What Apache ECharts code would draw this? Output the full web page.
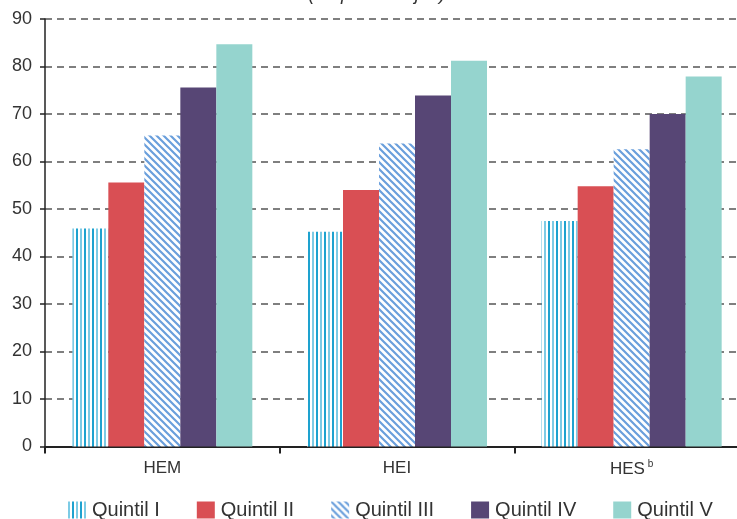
<!DOCTYPE html>
<html>
<head>
<meta charset="utf-8">
<script src="https://cdn.jsdelivr.net/npm/echarts@6/dist/echarts.min.js"></script>
<style>
  html, body { margin: 0; padding: 0; background: #fff; }
  #chart { width: 737px; height: 519px; }
</style>
</head>
<body>
<div id="chart"></div>
<script>
// Categories and values per income quintile (percentages)
var categories = ['HEM', 'HEI', 'HES'];
var seriesNames = ['Quintil I', 'Quintil II', 'Quintil III', 'Quintil IV', 'Quintil V'];
var quintil1 = [45.9, 45.2, 47.5];
var quintil2 = [55.6, 54.0, 54.8];
var quintil3 = [65.5, 63.8, 62.6];
var quintil4 = [75.6, 73.9, 70.0];
var quintil5 = [84.7, 81.2, 77.9];
var yTicks = { min: 0, max: 90, interval: 10 };

var FONT = '"Liberation Sans", Arial, Helvetica, sans-serif';

// Vertical hatch fill (alternating cyan stripes)
function verticalHatch() {
  var c = document.createElement('canvas');
  c.width = 8; c.height = 8;
  var g = c.getContext('2d');
  g.fillStyle = '#ffffff'; g.fillRect(0, 0, 8, 8);
  g.fillStyle = '#7dcbe5'; g.fillRect(0, 0, 2, 8);
  g.fillStyle = '#1ea2cf'; g.fillRect(4, 0, 2, 8);
  return { image: c, repeat: 'repeat' };
}

// Diagonal hatch fill ("\" direction)
function diagonalHatch() {
  var s = 7;
  var c = document.createElement('canvas');
  c.width = s; c.height = s;
  var g = c.getContext('2d');
  g.fillStyle = '#ffffff'; g.fillRect(0, 0, s, s);
  g.strokeStyle = '#6a9fdc'; g.lineWidth = 2.2;
  g.beginPath();
  g.moveTo(-s, -s); g.lineTo(2 * s, 2 * s);
  g.moveTo(-s, 0); g.lineTo(s, 2 * s);
  g.moveTo(0, -s); g.lineTo(2 * s, s);
  g.stroke();
  return { image: c, repeat: 'repeat' };
}

var fills = [verticalHatch(), '#d94f54', diagonalHatch(), '#574675', '#95d4ce'];
var values = [quintil1, quintil2, quintil3, quintil4, quintil5];

var chart = echarts.init(document.getElementById('chart'), null, { renderer: 'canvas' });

var series = seriesNames.map(function (name, i) {
  return {
    name: name,
    type: 'bar',
    data: values[i],
    barWidth: 36,
    barGap: '0%',
    itemStyle: { color: fills[i] },
    emphasis: { disabled: true }
  };
});

chart.setOption({
  animation: false,
  backgroundColor: '#ffffff',
  graphic: [{
    type: 'text',
    x: 377,
    y: -5,
    style: {
      text: '(en porcentajes)',
      font: 'italic 19px ' + FONT,
      fill: '#333333',
      textAlign: 'center',
      textVerticalAlign: 'middle'
    }
  }],
  // plot area runs a little past the right edge of the canvas
  grid: {
    left: 45, width: 704, top: 19, bottom: 72.5,
    containLabel: false,
    outerBoundsMode: 'none'
  },
  legend: {
    left: 68,
    top: 500,
    padding: 0,
    itemWidth: 18,
    itemHeight: 17,
    itemGap: 37,
    icon: 'rect',
    selectedMode: false,
    textStyle: { fontFamily: FONT, fontSize: 20, color: '#333333', padding: [0, 0, 0, 1] },
    data: seriesNames
  },
  xAxis: {
    type: 'category',
    data: categories,
    axisLine: { lineStyle: { color: '#222222', width: 2 } },
    axisTick: { show: true, length: 7, lineStyle: { color: '#222222', width: 2 } },
    axisLabel: {
      margin: 13,
      fontFamily: FONT,
      fontSize: 17,
      color: '#333333',
      formatter: function (v) {
        return v === 'HES' ? '{m|HES}{s|b}' : '{m|' + v + '}';
      },
      rich: {
        m: { fontFamily: FONT, fontSize: 17, color: '#333333' },
        s: { fontFamily: FONT, fontSize: 10, color: '#333333', padding: [0, 0, 9, 3] }
      }
    },
    splitLine: { show: false }
  },
  yAxis: {
    type: 'value',
    min: yTicks.min,
    max: yTicks.max,
    interval: yTicks.interval,
    axisLine: { show: true, lineStyle: { color: '#222222', width: 1.5 } },
    axisTick: { show: true, length: 5, lineStyle: { color: '#222222', width: 1.5 } },
    axisLabel: { margin: 13, fontFamily: FONT, fontSize: 18, color: '#333333' },
    splitLine: { show: true, lineStyle: { color: '#555555', width: 1.5, type: [7, 5] } }
  },
  series: series
});
</script>
</body>
</html>
